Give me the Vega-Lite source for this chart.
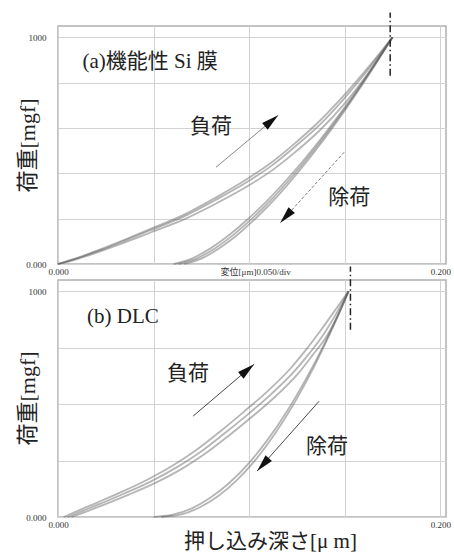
{
  "$schema": "https://vega.github.io/schema/vega-lite/v6.json",
  "background": "white",
  "padding": {"left": 15, "top": 10, "right": 0, "bottom": 0},
  "spacing": 16,
  "bounds": "flush",
  "config": {
    "view": {"stroke": "#b0b0b0", "strokeWidth": 1.5},
    "font": "Liberation Serif, Noto Sans CJK JP",
    "axis": {
      "domain": false, "ticks": false,
      "gridColor": "#d2d2d2", "gridWidth": 1,
      "labelFont": "Liberation Serif, Noto Sans CJK JP", "labelFontSize": 9, "labelColor": "#333",
      "titleFont": "Liberation Serif, Noto Sans CJK JP", "titleFontWeight": "normal", "titleColor": "#222", "titleFontSize": 22
    }
  },
  "datasets": {
    "curvesA": [
      {"s":"L1","d":0,"L":0},{"s":"L1","d":0.01,"L":25},{"s":"L1","d":0.0225,"L":62},{"s":"L1","d":0.035,"L":103},{"s":"L1","d":0.0487,"L":150},{"s":"L1","d":0.066,"L":210},{"s":"L1","d":0.083,"L":285},{"s":"L1","d":0.0995,"L":365},{"s":"L1","d":0.112,"L":435},{"s":"L1","d":0.1236,"L":515},{"s":"L1","d":0.137,"L":615},{"s":"L1","d":0.1497,"L":730},{"s":"L1","d":0.1625,"L":860},{"s":"L1","d":0.175,"L":1000},
      {"s":"L2","d":0,"L":0},{"s":"L2","d":0.01,"L":22},{"s":"L2","d":0.0225,"L":57},{"s":"L2","d":0.035,"L":95},{"s":"L2","d":0.0487,"L":140},{"s":"L2","d":0.066,"L":197},{"s":"L2","d":0.083,"L":268},{"s":"L2","d":0.0995,"L":345},{"s":"L2","d":0.112,"L":413},{"s":"L2","d":0.1236,"L":490},{"s":"L2","d":0.137,"L":590},{"s":"L2","d":0.1497,"L":705},{"s":"L2","d":0.1625,"L":845},{"s":"L2","d":0.175,"L":1000},
      {"s":"L3","d":0,"L":0},{"s":"L3","d":0.01,"L":27},{"s":"L3","d":0.0225,"L":66},{"s":"L3","d":0.035,"L":108},{"s":"L3","d":0.0487,"L":156},{"s":"L3","d":0.066,"L":218},{"s":"L3","d":0.083,"L":295},{"s":"L3","d":0.0995,"L":378},{"s":"L3","d":0.112,"L":450},{"s":"L3","d":0.1236,"L":530},{"s":"L3","d":0.137,"L":632},{"s":"L3","d":0.1497,"L":745},{"s":"L3","d":0.1625,"L":870},{"s":"L3","d":0.175,"L":1000},
      {"s":"U1","d":0.0605,"L":0},{"s":"U1","d":0.07,"L":24},{"s":"U1","d":0.08,"L":70},{"s":"U1","d":0.09,"L":131},{"s":"U1","d":0.1,"L":203},{"s":"U1","d":0.11,"L":284},{"s":"U1","d":0.12,"L":375},{"s":"U1","d":0.13,"L":473},{"s":"U1","d":0.14,"L":579},{"s":"U1","d":0.15,"L":691},{"s":"U1","d":0.16,"L":810},{"s":"U1","d":0.17,"L":935},{"s":"U1","d":0.175,"L":1000},
      {"s":"U2","d":0.066,"L":0},{"s":"U2","d":0.075,"L":24},{"s":"U2","d":0.085,"L":73},{"s":"U2","d":0.095,"L":137},{"s":"U2","d":0.105,"L":214},{"s":"U2","d":0.115,"L":301},{"s":"U2","d":0.125,"L":398},{"s":"U2","d":0.135,"L":504},{"s":"U2","d":0.145,"L":617},{"s":"U2","d":0.155,"L":738},{"s":"U2","d":0.165,"L":866},{"s":"U2","d":0.175,"L":1000},
      {"s":"U3","d":0.063,"L":0},{"s":"U3","d":0.0725,"L":24},{"s":"U3","d":0.0825,"L":71},{"s":"U3","d":0.0925,"L":134},{"s":"U3","d":0.1025,"L":208},{"s":"U3","d":0.1125,"L":292},{"s":"U3","d":0.1225,"L":386},{"s":"U3","d":0.1325,"L":488},{"s":"U3","d":0.1425,"L":598},{"s":"U3","d":0.1525,"L":714},{"s":"U3","d":0.1625,"L":838},{"s":"U3","d":0.175,"L":1000}
    ],
    "curvesB": [
      {"s":"L1","d":0.005,"L":0},{"s":"L1","d":0.01,"L":17},{"s":"L1","d":0.0225,"L":60},{"s":"L1","d":0.035,"L":105},{"s":"L1","d":0.0487,"L":158},{"s":"L1","d":0.0625,"L":222},{"s":"L1","d":0.0749,"L":290},{"s":"L1","d":0.087,"L":370},{"s":"L1","d":0.0995,"L":456},{"s":"L1","d":0.112,"L":548},{"s":"L1","d":0.1236,"L":645},{"s":"L1","d":0.1315,"L":725},{"s":"L1","d":0.139,"L":810},{"s":"L1","d":0.1455,"L":900},{"s":"L1","d":0.152,"L":1000},
      {"s":"L2","d":0.007,"L":0},{"s":"L2","d":0.012,"L":15},{"s":"L2","d":0.0245,"L":56},{"s":"L2","d":0.037,"L":99},{"s":"L2","d":0.0507,"L":150},{"s":"L2","d":0.0645,"L":212},{"s":"L2","d":0.0769,"L":280},{"s":"L2","d":0.089,"L":358},{"s":"L2","d":0.1015,"L":444},{"s":"L2","d":0.114,"L":536},{"s":"L2","d":0.1256,"L":635},{"s":"L2","d":0.133,"L":715},{"s":"L2","d":0.1405,"L":800},{"s":"L2","d":0.1465,"L":895},{"s":"L2","d":0.152,"L":1000},
      {"s":"L3","d":0.003,"L":0},{"s":"L3","d":0.008,"L":19},{"s":"L3","d":0.0205,"L":64},{"s":"L3","d":0.033,"L":110},{"s":"L3","d":0.0467,"L":165},{"s":"L3","d":0.0605,"L":230},{"s":"L3","d":0.0729,"L":300},{"s":"L3","d":0.085,"L":380},{"s":"L3","d":0.0975,"L":468},{"s":"L3","d":0.11,"L":560},{"s":"L3","d":0.1216,"L":658},{"s":"L3","d":0.1295,"L":738},{"s":"L3","d":0.137,"L":822},{"s":"L3","d":0.1445,"L":910},{"s":"L3","d":0.152,"L":1000},
      {"s":"U1","d":0.05,"L":0},{"s":"U1","d":0.06,"L":10},{"s":"U1","d":0.07,"L":38},{"s":"U1","d":0.08,"L":87},{"s":"U1","d":0.09,"L":154},{"s":"U1","d":0.1,"L":240},{"s":"U1","d":0.11,"L":346},{"s":"U1","d":0.12,"L":471},{"s":"U1","d":0.13,"L":615},{"s":"U1","d":0.14,"L":778},{"s":"U1","d":0.152,"L":1000},
      {"s":"U2","d":0.054,"L":0},{"s":"U2","d":0.064,"L":10},{"s":"U2","d":0.074,"L":42},{"s":"U2","d":0.084,"L":94},{"s":"U2","d":0.094,"L":167},{"s":"U2","d":0.104,"L":260},{"s":"U2","d":0.114,"L":375},{"s":"U2","d":0.124,"L":510},{"s":"U2","d":0.134,"L":666},{"s":"U2","d":0.144,"L":843},{"s":"U2","d":0.152,"L":1000}
    ],
    "peakA": [{"d":0.1738,"L1":830,"L2":1110}],
    "peakB": [{"d":0.153,"L1":830,"L2":1110}],
    "arrowsA": [
      {"kind":"load","x1":0.0827,"y1":427,"x2":0.1152,"y2":656},
      {"kind":"unload","x1":0.1497,"y1":493,"x2":0.1162,"y2":181}
    ],
    "arrowsB": [
      {"kind":"load","x1":0.0707,"y1":447,"x2":0.1026,"y2":677},
      {"kind":"unload","x1":0.1366,"y1":513,"x2":0.1042,"y2":204}
    ],
    "textA": [
      {"t":"(a)機能性 Si 膜","d":0.0482,"L":890},
      {"t":"負荷","d":0.080,"L":603},
      {"t":"除荷","d":0.1524,"L":291}
    ],
    "textB": [
      {"t":"(b) DLC","d":0.034,"L":885},
      {"t":"負荷","d":0.068,"L":633},
      {"t":"除荷","d":0.1408,"L":310}
    ]
  },
  "vconcat": [
    {
      "width": 388, "height": 238,
      "layer": [
        {
          "data": {"name": "curvesA"},
          "mark": {"type": "line", "interpolate": "monotone", "color": "#5a5a5a", "opacity": 0.45, "strokeWidth": 1.8},
          "encoding": {
            "x": {"field": "d", "type": "quantitative", "scale": {"domain": [0, 0.203], "nice": false, "zero": false},
                  "axis": {"values": [0, 0.05, 0.1, 0.15, 0.2], "title": null, "labelFlush": false, "labelPadding": 3,
                           "labelOffset": {"condition": {"test": "datum.value == 0.1", "value": 6}, "value": 0},
                           "labelExpr": "datum.value == 0 ? '0.000' : datum.value == 0.2 ? '0.200' : datum.value == 0.1 ? '変位[μm]0.050/div' : ''"}},
            "y": {"field": "L", "type": "quantitative", "scale": {"domain": [0, 1050], "nice": false},
                  "axis": {"values": [0, 200, 400, 600, 800, 1000], "labelPadding": 12, "labelFlush": false,
                           "labelExpr": "datum.value == 0 ? '0.000' : datum.value == 1000 ? '1000' : ''",
                           "title": "荷重[mgf]", "titleX": -31, "titleY": 119, "titleAngle": -90, "titleAlign": "center", "titleBaseline": "middle"}},
            "detail": {"field": "s"}
          }
        },
        {
          "data": {"name": "peakA"},
          "mark": {"type": "rule", "color": "#222", "strokeWidth": 1.5, "strokeDash": [7, 3, 1.5, 3]},
          "encoding": {"x": {"field": "d", "type": "quantitative"}, "y": {"field": "L1", "type": "quantitative"}, "y2": {"field": "L2"}}
        },
        {
          "data": {"name": "arrowsA"},
          "mark": {"type": "rule", "color": "#555", "strokeWidth": 0.8},
          "encoding": {
            "x": {"field": "x1", "type": "quantitative"}, "y": {"field": "y1", "type": "quantitative"},
            "x2": {"field": "x2"}, "y2": {"field": "y2"},
            "strokeDash": {"field": "kind", "type": "nominal", "scale": {"domain": ["load", "unload"], "range": [[1, 0], [3, 2]]}, "legend": null}
          }
        },
        {
          "data": {"name": "arrowsA"},
          "transform": [{"filter": "datum.kind == 'load'"}],
          "mark": {"type": "point", "shape": "M0,0L0.5,2L-0.5,2Z", "filled": true, "color": "#111", "opacity": 1, "size": 300, "angle": 50},
          "encoding": {"x": {"field": "x2", "type": "quantitative"}, "y": {"field": "y2", "type": "quantitative"}}
        },
        {
          "data": {"name": "arrowsA"},
          "transform": [{"filter": "datum.kind == 'unload'"}],
          "mark": {"type": "point", "shape": "M0,0L0.5,2L-0.5,2Z", "filled": true, "color": "#111", "opacity": 1, "size": 300, "angle": 222},
          "encoding": {"x": {"field": "x2", "type": "quantitative"}, "y": {"field": "y2", "type": "quantitative"}}
        },
        {
          "data": {"name": "textA"},
          "mark": {"type": "text", "fontSize": 21, "align": "center", "baseline": "middle", "color": "#222", "font": "Liberation Serif, Noto Sans CJK JP"},
          "encoding": {"x": {"field": "d", "type": "quantitative"}, "y": {"field": "L", "type": "quantitative"}, "text": {"field": "t"}}
        }
      ]
    },
    {
      "width": 388, "height": 237,
      "layer": [
        {
          "data": {"name": "curvesB"},
          "mark": {"type": "line", "interpolate": "monotone", "color": "#5a5a5a", "opacity": 0.45, "strokeWidth": 1.8},
          "encoding": {
            "x": {"field": "d", "type": "quantitative", "scale": {"domain": [0, 0.203], "nice": false, "zero": false},
                  "axis": {"values": [0, 0.05, 0.1, 0.15, 0.2], "labelFlush": false, "labelPadding": 3,
                           "labelExpr": "datum.value == 0 ? '0.000' : datum.value == 0.2 ? '0.200' : ''",
                           "title": "押し込み深さ[μ m]", "titleX": 212, "titleY": 24, "titleFontSize": 21, "titleAlign": "center", "titleBaseline": "middle"}},
            "y": {"field": "L", "type": "quantitative", "scale": {"domain": [0, 1050], "nice": false},
                  "axis": {"values": [0, 250, 500, 750, 1000], "labelPadding": 12, "labelFlush": false,
                           "labelExpr": "datum.value == 0 ? '0.000' : datum.value == 1000 ? '1000' : ''",
                           "title": "荷重[mgf]", "titleX": -31, "titleY": 118, "titleAngle": -90, "titleAlign": "center", "titleBaseline": "middle"}},
            "detail": {"field": "s"}
          }
        },
        {
          "data": {"name": "peakB"},
          "mark": {"type": "rule", "color": "#222", "strokeWidth": 1.5, "strokeDash": [7, 3, 1.5, 3]},
          "encoding": {"x": {"field": "d", "type": "quantitative"}, "y": {"field": "L1", "type": "quantitative"}, "y2": {"field": "L2"}}
        },
        {
          "data": {"name": "arrowsB"},
          "mark": {"type": "rule", "color": "#333", "strokeWidth": 0.9},
          "encoding": {
            "x": {"field": "x1", "type": "quantitative"}, "y": {"field": "y1", "type": "quantitative"},
            "x2": {"field": "x2"}, "y2": {"field": "y2"}
          }
        },
        {
          "data": {"name": "arrowsB"},
          "transform": [{"filter": "datum.kind == 'load'"}],
          "mark": {"type": "point", "shape": "M0,0L0.5,2L-0.5,2Z", "filled": true, "color": "#111", "opacity": 1, "size": 300, "angle": 50},
          "encoding": {"x": {"field": "x2", "type": "quantitative"}, "y": {"field": "y2", "type": "quantitative"}}
        },
        {
          "data": {"name": "arrowsB"},
          "transform": [{"filter": "datum.kind == 'unload'"}],
          "mark": {"type": "point", "shape": "M0,0L0.5,2L-0.5,2Z", "filled": true, "color": "#111", "opacity": 1, "size": 300, "angle": 222},
          "encoding": {"x": {"field": "x2", "type": "quantitative"}, "y": {"field": "y2", "type": "quantitative"}}
        },
        {
          "data": {"name": "textB"},
          "mark": {"type": "text", "fontSize": 21, "align": "center", "baseline": "middle", "color": "#222", "font": "Liberation Serif, Noto Sans CJK JP"},
          "encoding": {"x": {"field": "d", "type": "quantitative"}, "y": {"field": "L", "type": "quantitative"}, "text": {"field": "t"}}
        }
      ]
    }
  ]
}
